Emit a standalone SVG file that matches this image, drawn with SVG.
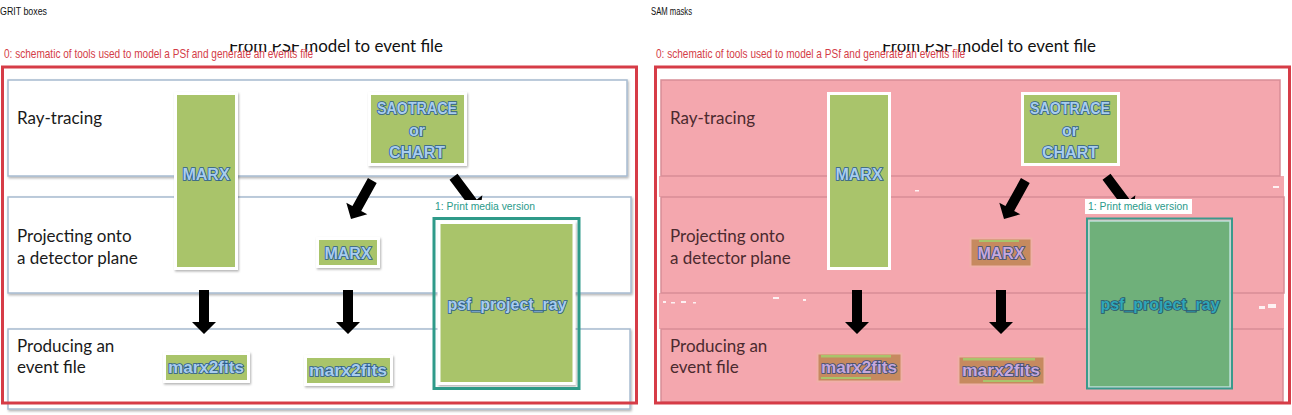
<svg xmlns="http://www.w3.org/2000/svg" width="1292" height="415" viewBox="0 0 1292 415">
<defs>
<style>
.cap{font-family:"Liberation Sans",Arial,sans-serif;font-size:10px;fill:#111}
.title{font-family:Lato,"Open Sans",sans-serif;font-size:17.5px;fill:#111}
.lbl0{font-family:"Liberation Sans",Arial,sans-serif;font-size:13px;fill:#d43d48}
.lbl1{font-family:"Liberation Sans",Arial,sans-serif;font-size:11.5px;fill:#2a9a8a}
.row{fill:#fff;stroke:#a7bbd0;stroke-width:1.5}
.prow{fill:#f4a7ae;stroke:#d88d96;stroke-width:1.5}
.rowtxt{font-family:Lato,"Open Sans",sans-serif;font-size:17px;fill:#1a1a1a}
.prowtxt{font-family:Lato,"Open Sans",sans-serif;font-size:17px;fill:#4b2a2e}
.box{fill:#a9c46b;stroke:#fff;stroke-width:3}
.bbox{fill:#c68a5f;stroke:#f0b0a8;stroke-width:2}
.wa{font-family:"Liberation Sans",Arial,sans-serif;font-weight:bold;font-size:16px;fill:#a8cdee;stroke:#2c5c8c;stroke-width:1.6;paint-order:stroke;text-anchor:middle}
.wap{font-family:"Liberation Sans",Arial,sans-serif;font-weight:bold;font-size:16px;fill:#c6a8dc;stroke:#3a4d78;stroke-width:1.6;paint-order:stroke;text-anchor:middle}
.arrow{fill:#000}
.redframe{fill:none;stroke:#d63c47;stroke-width:3}
.tealframe{fill:none;stroke:#2f9a89;stroke-width:3}
.mask{fill:#fff}
</style>
<filter id="sh" x="-10%" y="-10%" width="130%" height="130%"><feDropShadow dx="1" dy="1.5" stdDeviation="1.2" flood-color="#000" flood-opacity="0.3"/></filter>
<path id="arr" d="M-5,-44 L5,-44 L5,-12 L12,-12 L0,0 L-12,-12 L-5,-12 Z"/>
</defs>
<rect width="1292" height="415" fill="#fff"/>

<!-- LEFT PANEL: GRIT boxes -->
<g id="left-panel">
<text class="cap" x="0" y="15" textLength="47" lengthAdjust="spacingAndGlyphs">GRIT boxes</text>
<text class="title" x="229" y="52" textLength="214" lengthAdjust="spacingAndGlyphs">From PSF model to event file</text>
<rect class="mask" x="222" y="28" width="90" height="16"/>
<g id="left-rows">
<rect class="row" x="8" y="80" width="619" height="96" filter="url(#sh)"/>
<rect class="row" x="8" y="197" width="623" height="96" filter="url(#sh)"/>
<rect class="row" x="8" y="329" width="622" height="80" filter="url(#sh)"/>
<text class="rowtxt" x="17" y="124">Ray-tracing</text>
<text class="rowtxt" x="17" y="242">Projecting onto</text>
<text class="rowtxt" x="17" y="264">a detector plane</text>
<text class="rowtxt" x="17" y="352">Producing an</text>
<text class="rowtxt" x="17" y="373">event file</text>
</g>
<g id="left-connectors">
<use href="#arr" class="arrow" transform="translate(351,219) rotate(29)"/>
<use href="#arr" class="arrow" transform="translate(480,212) rotate(-37)"/>
<use href="#arr" class="arrow" transform="translate(204,334)"/>
<use href="#arr" class="arrow" transform="translate(348,334)"/>
</g>
<g id="left-marx-tall"><rect class="box" x="175.5" y="93.5" width="61" height="175" filter="url(#sh)"/><text class="wa" x="206" y="180">MARX</text></g>
<g id="left-saotrace"><rect class="box" x="369.5" y="93.5" width="96" height="71" filter="url(#sh)"/><text class="wa" x="417" y="114" textLength="80" lengthAdjust="spacingAndGlyphs">SAOTRACE</text><text class="wa" x="417" y="136">or</text><text class="wa" x="417" y="158">CHART</text></g>
<g id="left-marx-small"><rect class="box" x="317.5" y="238.5" width="61" height="28" filter="url(#sh)"/><text class="wa" x="348" y="259">MARX</text></g>
<g id="left-marx2fits-1"><rect class="box" x="164.5" y="353.5" width="84" height="28" filter="url(#sh)"/><text class="wa" x="206" y="373" textLength="76" lengthAdjust="spacingAndGlyphs">marx2fits</text></g>
<g id="left-marx2fits-2"><rect class="box" x="305.5" y="356.5" width="86" height="28" filter="url(#sh)"/><text class="wa" x="348" y="376" textLength="78" lengthAdjust="spacingAndGlyphs">marx2fits</text></g>
<g id="left-psf"><rect class="box" x="439" y="222.5" width="135" height="161" filter="url(#sh)"/><text class="wa" x="507" y="310">psf_project_ray</text></g>
<g id="left-frame-0"><rect class="redframe" x="2.5" y="67" width="634" height="336"/><text class="lbl0" x="4" y="57.5" textLength="309" lengthAdjust="spacingAndGlyphs">0: schematic of tools used to model a PSf and generate an events file</text></g>
<g id="left-frame-1"><rect class="mask" x="433" y="200" width="104" height="14"/><text class="lbl1" x="435" y="210" textLength="100" lengthAdjust="spacingAndGlyphs">1: Print media version</text><rect class="tealframe" x="434" y="218.5" width="145" height="170"/></g>
</g>

<!-- RIGHT PANEL: SAM masks -->
<g id="right-panel">
<text class="cap" x="651" y="15" textLength="41" lengthAdjust="spacingAndGlyphs">SAM masks</text>
<text class="title" x="882" y="52" textLength="214" lengthAdjust="spacingAndGlyphs">From PSF model to event file</text>
<rect class="mask" x="875" y="28" width="90" height="16"/>
<g id="right-rows" transform="translate(653,0)">
<rect x="6" y="176" width="625" height="21" fill="#f4a7ae"/>
<rect x="6" y="293" width="625" height="36" fill="#f4a7ae"/>
<rect class="prow" x="8" y="80" width="619" height="96"/>
<rect class="prow" x="8" y="197" width="623" height="96"/>
<rect class="prow" x="8" y="329" width="622" height="73"/>
<g fill="#fff" opacity="0.85"><rect x="10" y="301" width="3" height="2"/><rect x="18" y="302" width="4" height="1.5"/><rect x="28" y="301" width="5" height="2"/><rect x="40" y="302" width="3" height="1.5"/><rect x="120" y="297" width="6" height="2"/><rect x="150" y="299" width="3" height="2"/><rect x="262" y="190" width="4" height="1.5"/><rect x="606" y="306" width="6" height="3"/><rect x="615" y="304" width="8" height="4"/><rect x="620" y="186" width="6" height="2"/></g>
<text class="prowtxt" x="17" y="124">Ray-tracing</text>
<text class="prowtxt" x="17" y="242">Projecting onto</text>
<text class="prowtxt" x="17" y="264">a detector plane</text>
<text class="prowtxt" x="17" y="352">Producing an</text>
<text class="prowtxt" x="17" y="373">event file</text>
</g>
<g id="right-connectors" transform="translate(653,0)">
<use href="#arr" class="arrow" transform="translate(351,219) rotate(29)"/>
<use href="#arr" class="arrow" transform="translate(480,212) rotate(-37)"/>
<use href="#arr" class="arrow" transform="translate(204,334)"/>
<use href="#arr" class="arrow" transform="translate(348,334)"/>
</g>
<g id="right-marx-tall" transform="translate(653,0)"><rect class="box" x="175.5" y="93.5" width="61" height="175"/><text class="wa" x="206" y="180">MARX</text></g>
<g id="right-saotrace" transform="translate(653,0)"><rect class="box" x="369.5" y="93.5" width="96" height="71"/><text class="wa" x="417" y="114" textLength="80" lengthAdjust="spacingAndGlyphs">SAOTRACE</text><text class="wa" x="417" y="136">or</text><text class="wa" x="417" y="158">CHART</text></g>
<g id="right-marx-small" transform="translate(653,0)"><rect class="bbox" x="317.5" y="238.5" width="61" height="28"/><rect x="326" y="240" width="40" height="2" fill="#a9c46b"/><text class="wap" x="348" y="259">MARX</text></g>
<g id="right-marx2fits-1" transform="translate(653,0)"><rect class="bbox" x="164.5" y="353.5" width="84" height="28"/><rect x="168" y="355" width="70" height="2.5" fill="#a9c46b"/><rect x="168" y="377" width="50" height="2" fill="#a9c46b"/><text class="wap" x="206" y="373" textLength="76" lengthAdjust="spacingAndGlyphs">marx2fits</text></g>
<g id="right-marx2fits-2" transform="translate(653,0)"><rect class="bbox" x="305.5" y="356.5" width="86" height="28"/><rect x="310" y="358" width="72" height="2.5" fill="#a9c46b"/><rect x="330" y="380" width="50" height="2" fill="#a9c46b"/><text class="wap" x="348" y="376" textLength="78" lengthAdjust="spacingAndGlyphs">marx2fits</text></g>
<g id="right-psf" transform="translate(653,0)"><rect x="436" y="221" width="141" height="166" fill="#6fb07a" stroke="#b8e0d8" stroke-width="1.5"/><text class="wa" x="507" y="310" style="fill:#2fa8b8;stroke:#2a5570">psf_project_ray</text></g>
<g id="right-frame-0"><rect class="redframe" x="655.5" y="67" width="634" height="336"/><text class="lbl0" x="656" y="57.5" textLength="309" lengthAdjust="spacingAndGlyphs">0: schematic of tools used to model a PSf and generate an events file</text></g>
<g id="right-frame-1"><rect class="mask" x="1085" y="199" width="107" height="15"/><text class="lbl1" x="1088" y="210" textLength="100" lengthAdjust="spacingAndGlyphs">1: Print media version</text><rect x="1087" y="218.5" width="145" height="170" fill="none" stroke="#3a9a8c" stroke-width="2"/></g>
</g>
</svg>
